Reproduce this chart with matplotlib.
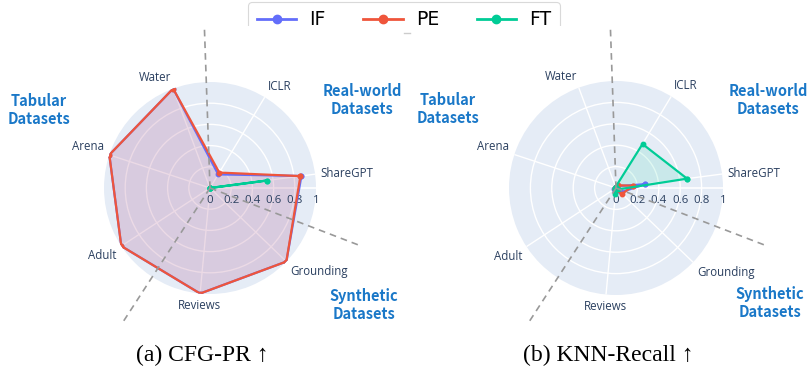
import numpy as np
import matplotlib.pyplot as plt
from matplotlib.lines import Line2D
from matplotlib.patches import Rectangle

# categories, counterclockwise from the radial axis
categories = ['ShareGPT', 'ICLR', 'Water', 'Arena', 'Adult', 'Reviews', 'Grounding']

# (a) CFG-PR
cfg_if = [0.87, 0.15, 1.00, 1.00, 1.00, 1.00, 1.00]
cfg_pe = [0.86, 0.17, 1.00, 1.00, 1.00, 1.00, 1.00]
cfg_ft = [0.54, 0.00, 0.00, 0.00, 0.00, 0.00, 0.00]

# (b) KNN-Recall
knn_if = [0.27, 0.02, 0.01, 0.01, 0.02, 0.03, 0.06]
knn_pe = [0.16, 0.03, 0.01, 0.01, 0.01, 0.02, 0.08]
knn_ft = [0.67, 0.48, 0.01, 0.01, 0.01, 0.06, 0.02]

radial_ticks = [0, 0.2, 0.4, 0.6, 0.8, 1]
group_names = ['Real-world\nDatasets', 'Tabular\nDatasets', 'Synthetic\nDatasets']
# directions of the dashed separators between groups (deg)
separators = [92, 237, 339]

colors = {'IF': '#636EFA', 'PE': '#EF553B', 'FT': '#00CC96'}
TXT = '#2a3f5f'
BLUE = '#1a78c8'
W, H = 809, 371
offset = np.deg2rad(7.5)
angles = offset + np.arange(len(categories)) * 2 * np.pi / len(categories)


def fx(px):
    return px / W


def fy(py):
    return 1 - py / H


def radar(fig, cx, cy, rad, series, caption, group_pos):
    ax = fig.add_axes([fx(cx - rad), fy(cy + rad), 2 * rad / W, 2 * rad / H], projection='polar')
    ax.set_facecolor('#E5ECF6')
    ax.spines['polar'].set_visible(False)
    ax.set_ylim(0, 1)
    ax.set_xticks(angles)
    ax.set_xticklabels([])
    ax.set_yticks([0.2, 0.4, 0.6, 0.8])
    ax.set_yticklabels([])
    ax.grid(True, color='white', lw=1)
    ax.tick_params(length=0)
    ax.plot([0, 0], [0, 1], color='white', lw=1.2, zorder=1)

    for r in radial_ticks:
        ax.annotate(f'{r:g}', (0, r), xytext=(0, -5), textcoords='offset points',
                    ha='center', va='top', fontsize=8.2, color=TXT, family='Open Sans')

    for a, name in zip(angles, categories):
        c, s = np.cos(a), np.sin(a)
        ha = 'left' if c > 0.3 else ('right' if c < -0.3 else 'center')
        va = 'bottom' if s > 0.3 else ('top' if s < -0.3 else 'center')
        ax.text(a, 1.05, name, ha=ha, va=va, fontsize=8.3, color=TXT,
                family='Open Sans', clip_on=False)

    for name, vals in series:
        th = np.append(angles, angles[0])
        rr = np.append(vals, vals[0])
        ax.fill(th, rr, color=colors[name], alpha=0.12, lw=0, zorder=2)
        ax.plot(th, rr, color=colors[name], lw=1.6, marker='o', ms=3.2, zorder=3)

    for d in separators:
        a = np.deg2rad(d)
        ax.plot([a, a], [0, 1.5], ls=(0, (4, 3)), color='#999999', lw=1.2,
                clip_on=False, zorder=4)

    for label, (gx, gy) in zip(group_names, group_pos):
        fig.text(fx(gx), fy(gy), label, ha='center', va='center', fontsize=10.5,
                 color=BLUE, fontweight='bold', family=['Noto Sans CJK SC', 'DejaVu Sans'],
                 linespacing=1.15)

    fig.text(fx(cx - 8), fy(355), caption, ha='center', va='center', fontsize=17,
             family=['Liberation Serif', 'DejaVu Serif'])
    return ax


fig = plt.figure(figsize=(W / 100, H / 100), dpi=100)

radar(fig, 210, 188, 106,
      [('IF', cfg_if), ('PE', cfg_pe), ('FT', cfg_ft)],
      '(a) CFG-PR ↑',
      [(362, 100), (39, 110), (364, 305)])
radar(fig, 616, 188, 107,
      [('IF', knn_if), ('PE', knn_pe), ('FT', knn_ft)],
      '(b) KNN-Recall ↑',
      [(768, 100), (448, 109), (770, 303)])

handles = [Line2D([], [], color=colors[k], lw=2, marker='o', ms=6) for k in colors]
leg = fig.legend(handles, list(colors), loc='upper center', ncol=3,
                 bbox_to_anchor=(fx(404), fy(2)), fontsize=13.5,
                 handlelength=2.1, handletextpad=0.7, columnspacing=2.0,
                 frameon=True, edgecolor='#d0d0d0', fancybox=True,
                 borderpad=0.45, borderaxespad=0)
leg.get_frame().set_linewidth(0.8)
# the bottom edge of the legend box is hidden
fig.add_artist(Rectangle((fx(240), fy(41)), fx(330), 15 / H, transform=fig.transFigure,
                         facecolor='white', edgecolor='none', zorder=10))
fig.add_artist(Line2D([fx(404), fx(410)], [fy(33), fy(33)], color='#cccccc', lw=1,
                      zorder=11))

fig.savefig('out.png', dpi=100)
